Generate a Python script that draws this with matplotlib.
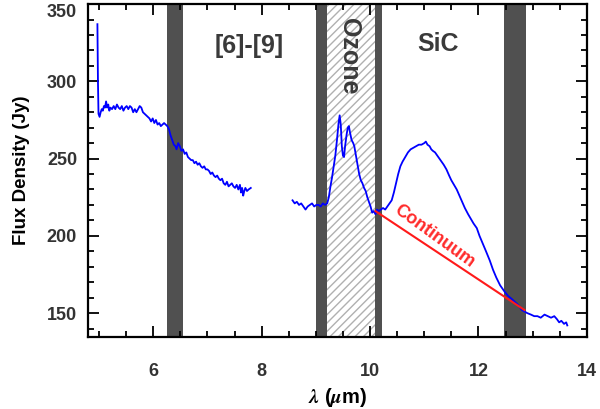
import numpy as np
import matplotlib.pyplot as plt

plt.rcParams.update({
    "font.family": ["Liberation Sans", "DejaVu Sans"],
    "font.weight": "bold",
    "mathtext.fontset": "stix",
    "hatch.linewidth": 1.0,
})

# --- data ---
wl_short = [4.97, 4.98, 4.99, 5.01, 5.03, 5.05, 5.07, 5.09, 5.11, 5.13, 5.15, 5.17,
            5.19, 5.21, 5.24, 5.27, 5.30, 5.33, 5.36, 5.39, 5.42, 5.45, 5.48, 5.51,
            5.54, 5.57, 5.60, 5.63, 5.66, 5.69, 5.72, 5.75, 5.78, 5.81, 5.84, 5.87,
            5.90, 5.93, 5.96, 5.99, 6.02, 6.05, 6.08, 6.11, 6.14, 6.17, 6.20, 6.23,
            6.26, 6.29, 6.32, 6.35, 6.38, 6.41, 6.43, 6.46, 6.49, 6.52, 6.55, 6.58,
            6.61, 6.64, 6.67, 6.70, 6.73, 6.76, 6.79, 6.82, 6.85, 6.88, 6.91, 6.94,
            6.97, 7.00, 7.03, 7.06, 7.09, 7.12, 7.15, 7.18, 7.21, 7.24, 7.27, 7.30,
            7.33, 7.36, 7.39, 7.42, 7.45, 7.48, 7.51, 7.54, 7.57, 7.60, 7.62, 7.64,
            7.66, 7.68, 7.70, 7.73, 7.76, 7.80]
flux_short = [337, 300, 279, 277, 280, 282, 281, 284, 283, 287, 283, 285,
              281, 283, 282, 284, 282, 285, 283, 282, 284, 281, 283, 284,
              282, 284, 283, 280, 282, 280, 282, 284, 283, 280, 279, 278,
              277, 276, 274, 276, 273, 275, 272, 273, 271, 272, 273, 272,
              271, 269, 265, 262, 259, 258, 256, 260, 258, 255, 256, 253,
              254, 251, 250, 249, 249, 247, 248, 246, 247, 245, 244, 245,
              243, 243, 242, 240, 241, 239, 238, 239, 237, 236, 237, 234,
              233, 235, 232, 233, 234, 232, 231, 233, 230, 233, 228, 231,
              226, 229, 231, 229, 230, 231]

wl_long = [8.57, 8.61, 8.65, 8.69, 8.73, 8.77, 8.81, 8.85, 8.89, 8.93, 8.97, 9.01,
           9.05, 9.09, 9.13, 9.17, 9.21, 9.24, 9.27, 9.30, 9.33, 9.36, 9.39, 9.42,
           9.44, 9.46, 9.48, 9.50, 9.52, 9.54, 9.57, 9.59, 9.61, 9.63, 9.66, 9.69,
           9.71, 9.74, 9.77, 9.80, 9.83, 9.86, 9.89, 9.92, 9.95, 9.98, 10.01, 10.04,
           10.07, 10.10, 10.13, 10.16, 10.20, 10.24, 10.28, 10.32, 10.36, 10.40,
           10.44, 10.48, 10.52, 10.56, 10.60, 10.65, 10.70, 10.75, 10.80, 10.85,
           10.90, 10.95, 11.00, 11.03, 11.06, 11.10, 11.13, 11.16, 11.20, 11.24,
           11.28, 11.32, 11.36, 11.41, 11.46, 11.50, 11.55, 11.60, 11.65, 11.70,
           11.75, 11.81, 11.86, 11.91, 11.97, 12.02, 12.08, 12.14, 12.21, 12.27,
           12.33, 12.40, 12.48, 12.55, 12.62, 12.68, 12.74, 12.80, 12.85, 12.90,
           12.97, 13.03, 13.09, 13.15, 13.22, 13.28, 13.34, 13.40, 13.45, 13.49,
           13.53, 13.58, 13.62, 13.64]
flux_long = [223, 221, 222, 220, 221, 219, 217, 219, 220, 221, 219, 220,
             220, 219, 221, 220, 221, 225, 232, 238, 245, 252, 262, 273,
             278, 272, 258, 252, 251, 258, 266, 270, 271, 267, 262, 260,
             258, 252, 246, 240, 236, 234, 231, 229, 225, 222, 219, 215,
             216, 214, 217, 216, 217, 218, 217, 219, 221, 223,
             228, 234, 240, 245, 248, 251, 254, 256, 257, 258,
             259, 259, 260, 261, 259, 258, 256, 255, 254, 252,
             250, 248, 246, 243, 239, 236, 233, 230, 226, 222,
             218, 214, 211, 208, 205, 200, 195, 190, 184, 178,
             173, 168, 164, 161, 159, 157, 155, 152, 151, 150,
             149, 148, 148, 147, 149, 148, 147, 148, 146, 144,
             145, 143, 144, 142]

cont_wl = [10.10, 12.85]
cont_flux = [216, 152]

dark_bands = [(6.25, 6.55), (9.0, 9.2), (10.1, 10.22), (12.48, 12.87)]
ozone_band = (9.2, 10.1)

fig = plt.figure(figsize=(6.0, 4.09), dpi=100)
ax = fig.add_axes([0.147, 0.176, 0.831, 0.814])

for lo, hi in dark_bands:
    ax.axvspan(lo, hi, color="#505050", lw=0, zorder=1)
ax.axvspan(*ozone_band, facecolor="white", edgecolor="#b0b0b0", hatch="////",
           lw=0, zorder=1)

ax.plot(wl_short, flux_short, color="#0000ff", lw=1.3, zorder=3)
ax.plot(wl_long, flux_long, color="#0000ff", lw=1.3, zorder=3)
ax.plot(cont_wl, cont_flux, color="#ff1a1a", lw=1.5, zorder=4)

ax.text(7.77, 323, "[6]-[9]", fontsize=18, fontweight="bold", color="#3a3a3a",
        ha="center", va="center")
ax.text(11.26, 324, "SiC", fontsize=18, fontweight="bold", color="#3a3a3a",
        ha="center", va="center")
ax.text(9.62, 316, "Ozone", fontsize=18, fontweight="bold", color="#3a3a3a",
        ha="center", va="center", rotation=-90, zorder=5)
ax.text(11.18, 200, "Continuum", fontsize=13, fontweight="bold", color="#ff2a2a",
        ha="center", va="center", rotation=-36, zorder=5)

ax.set_xlim(4.8, 14)
ax.set_ylim(134.5, 350)
ax.set_xticks([6, 8, 10, 12, 14])
ax.set_xticks(np.arange(5.0, 14.0, 0.5), minor=True)
ax.set_yticks([150, 200, 250, 300, 350])
ax.set_yticks(np.arange(140, 351, 10), minor=True)
ax.tick_params(which="both", direction="in", top=True, right=True, width=1.3,
               labelsize=13, labelcolor="#333333")
ax.tick_params(axis="x", which="major", pad=19)
ax.tick_params(axis="y", which="major", pad=8)
ax.tick_params(which="major", length=8)
ax.tick_params(which="minor", length=4)
for lbl in ax.get_xticklabels() + ax.get_yticklabels():
    lbl.set_fontweight("bold")
# IDL-style: top label sits inside the frame
ax.yaxis.get_major_ticks()[-1].label1.set_va("top")
for s in ax.spines.values():
    s.set_linewidth(1.6)

ax.set_xlabel(r"$\lambda$ ($\mu$m)", fontsize=14.5, fontweight="bold", labelpad=4)
ax.set_ylabel("Flux Density (Jy)", fontsize=13.5, fontweight="bold", labelpad=12)

fig.savefig("out.png", dpi=100)
